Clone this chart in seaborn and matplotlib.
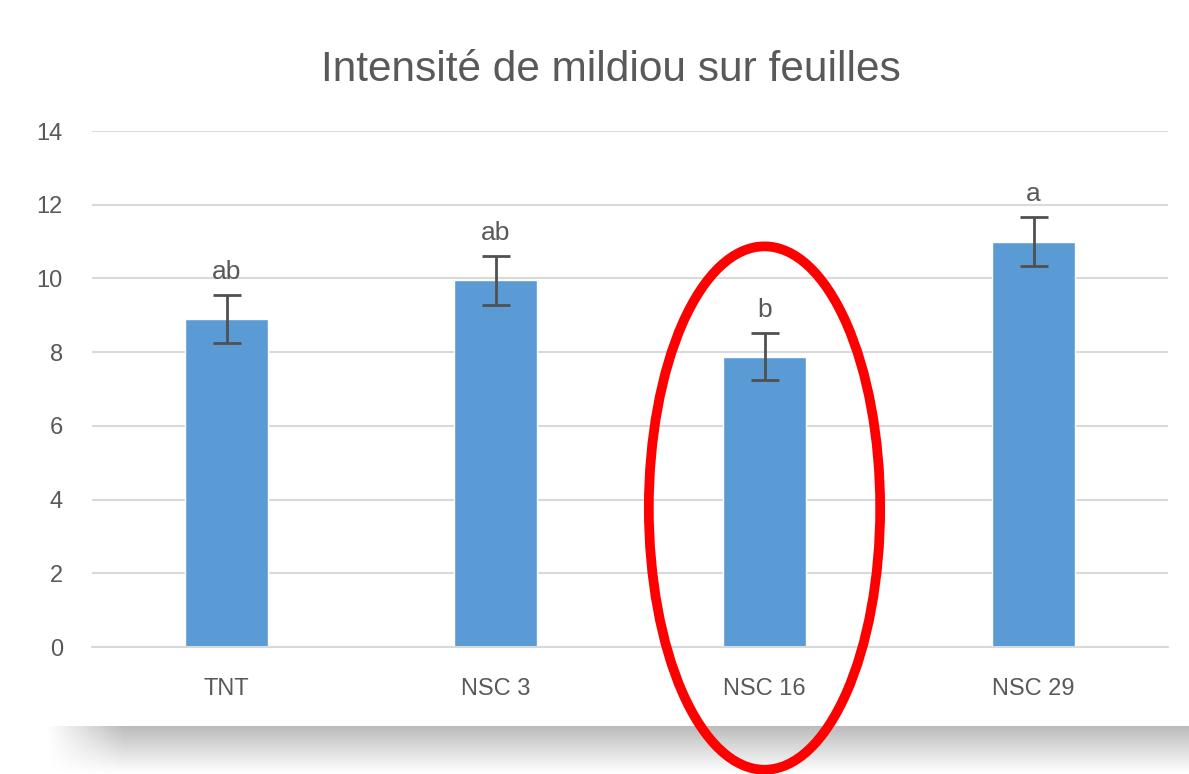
import matplotlib.pyplot as plt
import seaborn as sns
import numpy as np
import pandas as pd
from matplotlib.patches import Ellipse

categories = ["TNT", "NSC 3", "NSC 16", "NSC 29"]
means = [8.9, 9.95, 7.88, 11.0]
errors = [0.65, 0.66, 0.64, 0.66]
letters = ["ab", "ab", "b", "a"]

df = pd.DataFrame({"traitement": categories, "intensite": means})

sns.set_style("white")
plt.rcParams['font.family'] = ['Liberation Sans', 'DejaVu Sans']

fig = plt.figure(figsize=(11.89, 7.74), dpi=100)
ax = fig.add_axes([92 / 1189, 1 - 647 / 774, (1168 - 92) / 1189, (647 - 131) / 774])

sns.barplot(data=df, x="traitement", y="intensite", color="#5b9bd5",
            width=0.31, saturation=1, ax=ax, zorder=2)
ax.errorbar(range(len(categories)), means, yerr=errors, fmt="none",
            ecolor="#505050", elinewidth=2, capsize=10, capthick=2, zorder=3)

# lettres de significativité
for i, (m, e, l) in enumerate(zip(means, errors, letters)):
    ax.text(i, m + e + 0.3, l, ha="center", va="bottom", fontsize=19, color="#595959")

ax.set_ylim(0, 14)
ax.set_xlim(-0.5, 3.5)
ax.set_yticks(range(0, 15, 2))
ax.yaxis.grid(True, color="#d9d9d9", linewidth=1.5, zorder=0)
ax.set_axisbelow(True)
for s in ["top", "right", "left"]:
    ax.spines[s].set_visible(False)
ax.spines["bottom"].set_color("#d9d9d9")
ax.spines["bottom"].set_linewidth(1.5)
ax.tick_params(axis="both", length=0, labelsize=17, colors="#595959")
ax.tick_params(axis="x", pad=22)
ax.tick_params(axis="y", pad=21)
ax.set_xlabel("")
ax.set_ylabel("")
ax.set_title("Intensité de mildiou sur feuilles", fontsize=30.5, color="#595959",
             pad=36, x=0.482)

# ellipse rouge autour de NSC 16
ell = Ellipse((2, 3.77), width=0.86, height=14.2, fill=False, edgecolor="#ff0000",
              linewidth=7, clip_on=False, zorder=5)
ax.add_patch(ell)

# ombre sous le graphique
sax = fig.add_axes([45 / 1189, 0, 1 - 45 / 1189, 48 / 774], zorder=-1)
v = np.linspace(0.68, 1.0, 50)[:, None] ** 0.8
h = np.clip(np.linspace(0, 1, 300) * 15, 0, 1)[None, :]
grad = 1 - (1 - v) * h
sax.imshow(grad, cmap="gray", vmin=0, vmax=1, aspect="auto", extent=[0, 1, 0, 1])
sax.axis("off")

fig.savefig("out.png", dpi=100)
